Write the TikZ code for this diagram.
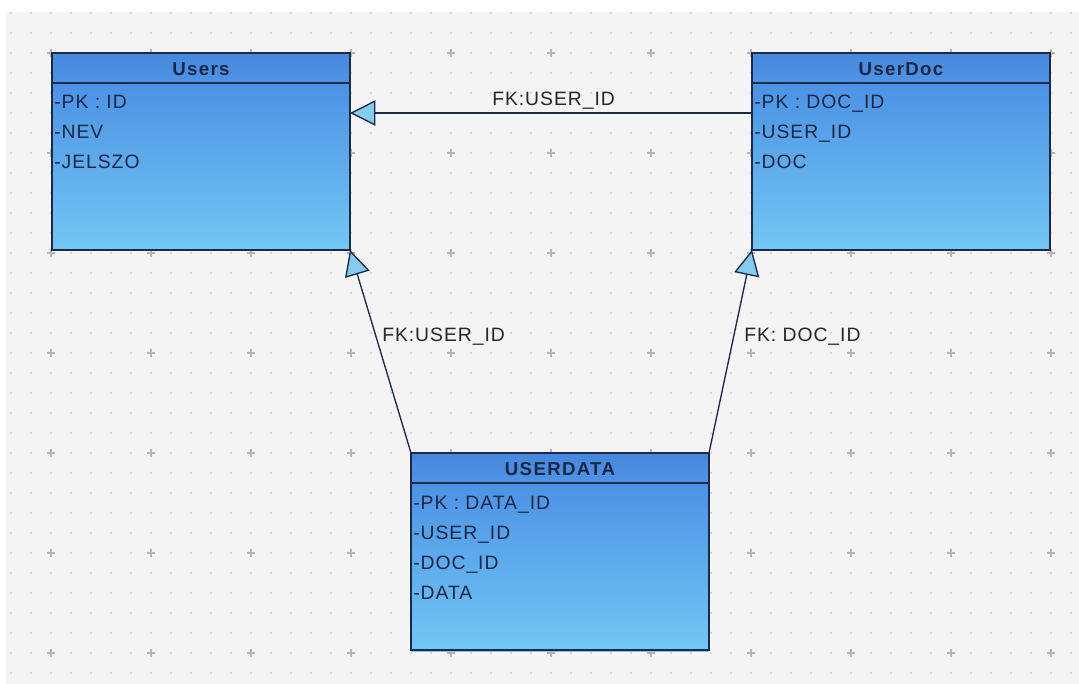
\documentclass[tikz,border=0pt]{standalone}
\usepackage{fontspec}
\setmainfont{Liberation Sans}
\usetikzlibrary{arrows.meta,calc}

\definecolor{canvas}{HTML}{F4F4F4}
\definecolor{griddot}{HTML}{CFCFCF}
\definecolor{gridcross}{HTML}{B4B4B4}
\definecolor{headtop}{HTML}{4787DD}
\definecolor{headbot}{HTML}{4E94E4}
\definecolor{bodytop}{HTML}{4C92E5}
\definecolor{bodybot}{HTML}{72C7F3}
\definecolor{frame}{HTML}{1B2A48}
\definecolor{ink}{HTML}{1A2745}
\definecolor{labelink}{HTML}{262626}
\definecolor{tipfill}{HTML}{86CBEE}

\newfontfamily\rowfont[LetterSpace=5]{Liberation Sans}
\newfontfamily\titlefont[LetterSpace=7]{Liberation Sans Bold}

\tikzset{
  classframe/.style={draw=frame, line width=1.5pt, minimum width=223.5pt,
    minimum height=147.75pt, inner sep=0pt, outer sep=0pt},
  headshade/.style={top color=headtop, bottom color=headbot},
  bodyshade/.style={top color=bodytop, bottom color=bodybot},
  sepline/.style={draw=frame, line width=1.5pt},
  classtitle/.style={font=\titlefont\fontsize{14}{16}\selectfont, text=ink, inner sep=0pt},
  classrow/.style={font=\rowfont\fontsize{14.5}{17}\selectfont, text=ink, inner sep=0pt, anchor=base west},
  fklabel/.style={font=\rowfont\fontsize{14.5}{17}\selectfont, text=labelink, inner sep=0pt, anchor=west},
  fk/.style={draw=frame, line width=1pt,
    -{Triangle[length=19pt, width=19pt, fill=tipfill]}},
}

\begin{document}
\begin{tikzpicture}[x=0.75pt, y=-0.75pt]
\useasboundingbox (0,0) rectangle (1079,684);

% drawing canvas with its dotted grid
\fill[white] (0,0) rectangle (1079,684);
\fill[canvas] (6,12) rectangle (1079,684);
\foreach \gx in {11,31,...,1071}
  \foreach \gy in {13,33,...,673}
    \fill[griddot] (\gx,\gy) circle (1.1);
\foreach \gx in {51,151,...,1051}
  \foreach \gy in {53,153,...,653}
    \draw[gridcross, line width=0.8pt] (\gx-4,\gy) -- (\gx+4,\gy) (\gx,\gy-4) -- (\gx,\gy+4);

% Users
\fill[headshade] (52,53) rectangle (350,83);
\fill[bodyshade] (52,83) rectangle (350,250);
\node[classframe, anchor=north west] (users) at (52,53) {};
\draw[sepline] ($(users.north west)+(0,30)$) -- ($(users.north east)+(0,30)$);
\node[classtitle] (usersT) at ($(users.north)+(0,16)$) {Users};
\node[classrow] (u1) at (54,109) {-PK : ID};
\node[classrow] (u2) at (54,139) {-NEV};
\node[classrow] (u3) at (54,169) {-JELSZO};

% UserDoc
\fill[headshade] (752,53) rectangle (1050,83);
\fill[bodyshade] (752,83) rectangle (1050,250);
\node[classframe, anchor=north west] (userdoc) at (752,53) {};
\draw[sepline] ($(userdoc.north west)+(0,30)$) -- ($(userdoc.north east)+(0,30)$);
\node[classtitle] (userdocT) at ($(userdoc.north)+(0,16)$) {UserDoc};
\node[classrow] (d1) at (754,109) {-PK : DOC\_ID};
\node[classrow] (d2) at (754,139) {-USER\_ID};
\node[classrow] (d3) at (754,169) {-DOC};

% USERDATA
\fill[headshade] (411,453) rectangle (709,483);
\fill[bodyshade] (411,483) rectangle (709,651);
\node[classframe, anchor=north west] (userdata) at (411,453) {};
\draw[sepline] ($(userdata.north west)+(0,30)$) -- ($(userdata.north east)+(0,30)$);
\node[classtitle] (userdataT) at ($(userdata.north)+(0,16)$) {USERDATA};
\node[classrow] (r1) at (413,509) {-PK : DATA\_ID};
\node[classrow] (r2) at (413,539) {-USER\_ID};
\node[classrow] (r3) at (413,569) {-DOC\_ID};
\node[classrow] (r4) at (413,599) {-DATA};

% foreign key relations
\draw[fk] (userdoc.west |- 0,113) -- (users.east |- 0,113);
\draw[fk] (userdata.north west) -- (users.south east);
\draw[fk] (userdata.north east) -- (userdoc.south west);

\node[fklabel] (l1) at (492,101) {FK:USER\_ID};
\node[fklabel] (l2) at (382,337) {FK:USER\_ID};
\node[fklabel] (l3) at (744,337) {FK: DOC\_ID};
\end{tikzpicture}
\end{document}
